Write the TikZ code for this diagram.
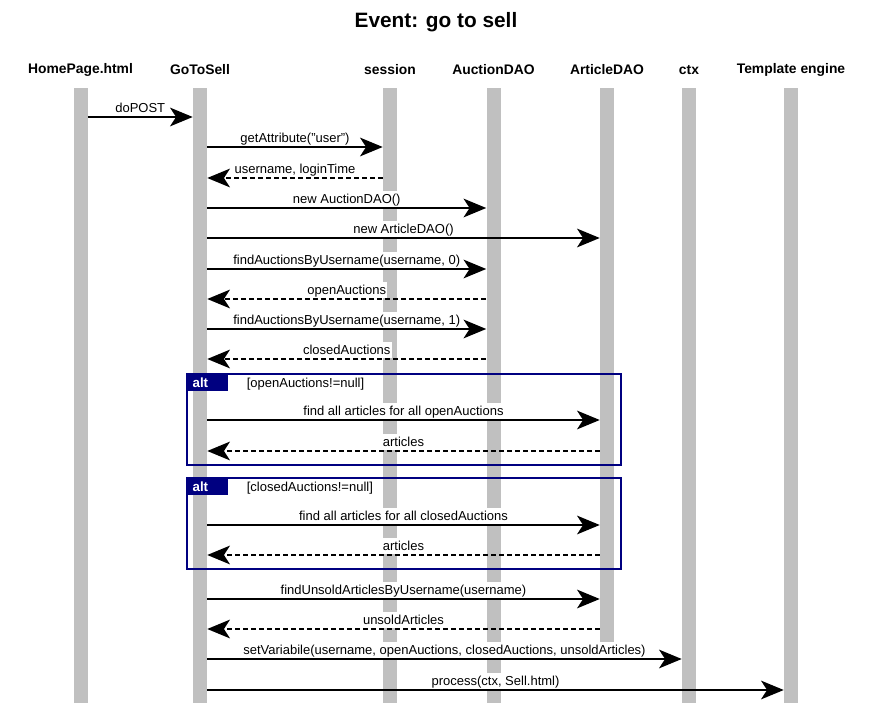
\documentclass[tikz,border=0pt]{standalone}
\usepackage{fontspec}
\setmainfont{Liberation Sans}
\usetikzlibrary{arrows.meta, positioning}
\usepackage{color}
\definecolor{lifegray}{RGB}{192,192,192}
\definecolor{altnavy}{RGB}{0,0,128}

\begin{document}
\begin{tikzpicture}[
        x=0.75pt, y=-0.75pt,
        eventtitle/.style={font=\fontsize{15.6}{18}\selectfont\bfseries},
        actor/.style={font=\fontsize{10.4}{12}\selectfont\bfseries},
        lifeline/.style={fill=lifegray, minimum width=10.5pt, inner sep=0pt, anchor=north},
        msg/.style={line width=1.5pt, -{Stealth[length=17pt, width=14pt, inset=4.5pt]}},
        reply/.style={msg, dash pattern=on 3.75pt off 2.25pt},
        msglabel/.style={fill=white, behind path, anchor=south, inner xsep=1pt, inner ysep=1pt,
                         text height=8.5pt, text depth=1.5pt, font=\fontsize{9.75}{11}\selectfont},
        altframe/.style={draw=altnavy, line width=2.2pt},
        alttab/.style={fill=altnavy, text=white, anchor=north west, font=\fontsize{10}{12}\selectfont\bfseries,
                       text width=22.75pt, inner xsep=4pt, inner ysep=0pt, minimum height=12.75pt, align=left},
        guard/.style={inner sep=0pt, font=\fontsize{9.75}{11}\selectfont}
    ]
    \useasboundingbox (0,0) rectangle (874,705);

    % title
    \node[eventtitle] (title) at (436,22) {Event: go to sell};

    % participants and lifelines
    \foreach \n/\x/\t/\h in {hp/80.5/HomePage.html/461.25pt, gts/200/GoToSell/461.25pt,
                             ses/390/session/461.25pt, adao/493.5/AuctionDAO/461.25pt,
                             artdao/607/ArticleDAO/416.25pt, ctx/689/ctx/461.25pt,
                             tpl/791/Template engine/461.25pt} {
        \node[actor] (\n-head) at (\x,70) {\t};
        \node[lifeline, minimum height=\h] (\n) at (\x,88) {};
    }

    % session
    \draw[msg] (hp.east |- 0,117) -- node[msglabel] {doPOST} (gts.west |- 0,117);
    \draw[msg] (gts.east |- 0,147) -- node[msglabel] {getAttribute("user")} (ses.west |- 0,147);
    \draw[reply] (ses.west |- 0,178) -- node[msglabel] {username, loginTime} (gts.east |- 0,178);

    % DAOs
    \draw[msg] (gts.east |- 0,208) -- node[msglabel] {new AuctionDAO()} (adao.west |- 0,208);
    \draw[msg] (gts.east |- 0,238) -- node[msglabel] {new ArticleDAO()} (artdao.west |- 0,238);

    % auctions
    \draw[msg] (gts.east |- 0,269) -- node[msglabel] {findAuctionsByUsername(username, 0)} (adao.west |- 0,269);
    \draw[reply] (adao.west |- 0,299) -- node[msglabel] {openAuctions} (gts.east |- 0,299);
    \draw[msg] (gts.east |- 0,329) -- node[msglabel] {findAuctionsByUsername(username, 1)} (adao.west |- 0,329);
    \draw[reply] (adao.west |- 0,359) -- node[msglabel] {closedAuctions} (gts.east |- 0,359);

    % alt: open auctions
    \draw[altframe] (187,374) rectangle (621,465);
    \node[alttab] (tab1) at (187,374) {alt};
    \node[guard, base right=13.5pt of tab1] (guard1) {[openAuctions!=null]};
    \draw[msg] (gts.east |- 0,420) -- node[msglabel] {find all articles for all openAuctions} (artdao.west |- 0,420);
    \draw[reply] (artdao.west |- 0,451) -- node[msglabel] {articles} (gts.east |- 0,451);

    % alt: closed auctions
    \draw[altframe] (187,478) rectangle (621,569);
    \node[alttab] (tab2) at (187,478) {alt};
    \node[guard, base right=13.5pt of tab2] (guard2) {[closedAuctions!=null]};
    \draw[msg] (gts.east |- 0,525) -- node[msglabel] {find all articles for all closedAuctions} (artdao.west |- 0,525);
    \draw[reply] (artdao.west |- 0,555) -- node[msglabel] {articles} (gts.east |- 0,555);

    % unsold articles
    \draw[msg] (gts.east |- 0,599) -- node[msglabel] {findUnsoldArticlesByUsername(username)} (artdao.west |- 0,599);
    \draw[reply] (artdao.west |- 0,629) -- node[msglabel] {unsoldArticles} (gts.east |- 0,629);

    % template
    \draw[msg] (gts.east |- 0,659) -- node[msglabel] {setVariabile(username, openAuctions, closedAuctions, unsoldArticles)} (ctx.west |- 0,659);
    \draw[msg] (gts.east |- 0,690) -- node[msglabel] {process(ctx, Sell.html)} (tpl.west |- 0,690);

\end{tikzpicture}
\end{document}
